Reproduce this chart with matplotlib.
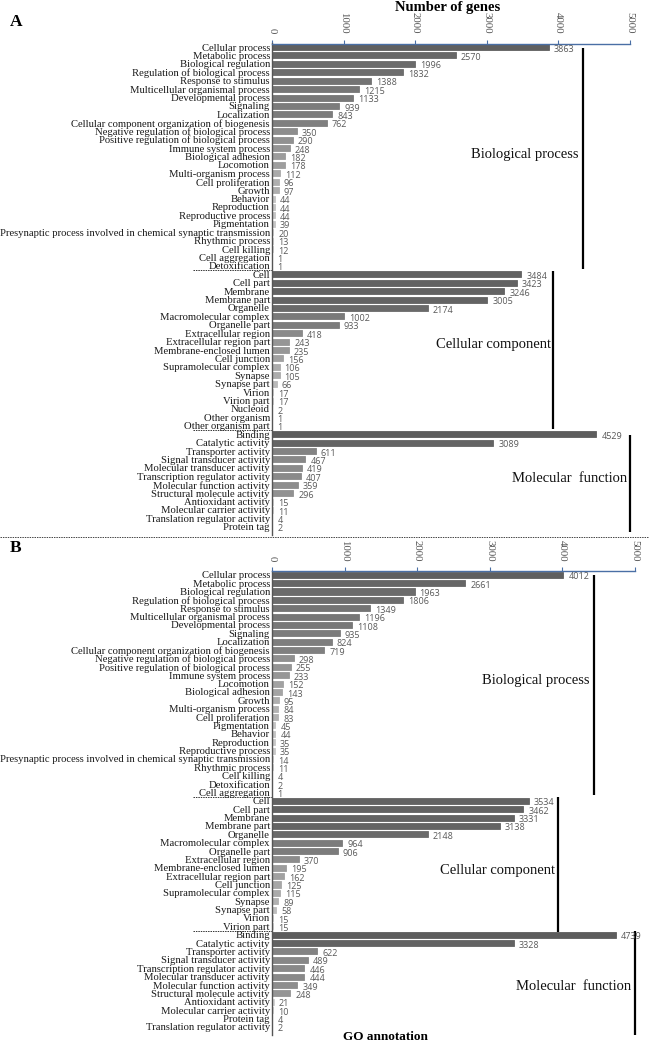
import matplotlib
matplotlib.use("Agg")
import matplotlib.pyplot as plt
import matplotlib.transforms as mtransforms
import numpy as np

# ---------------- data ----------------
A_bp_labels = ["Cellular process", "Metabolic process", "Biological regulation",
               "Regulation of biological process", "Response to stimulus",
               "Multicellular organismal process", "Developmental process", "Signaling",
               "Localization", "Cellular component organization of biogenesis",
               "Negative regulation of biological process",
               "Positive regulation of biological process", "Immune system process",
               "Biological adhesion", "Locomotion", "Multi-organism process",
               "Cell proliferation", "Growth", "Behavior", "Reproduction",
               "Reproductive process", "Pigmentation",
               "Presynaptic process involved in chemical synaptic transmission",
               "Rhythmic process", "Cell killing", "Cell aggregation", "Detoxification"]
A_bp_values = [3863, 2570, 1996, 1832, 1388, 1215, 1133, 939, 843, 762, 350, 290, 248,
               182, 178, 112, 96, 97, 44, 44, 44, 39, 20, 13, 12, 1, 1]

A_cc_labels = ["Cell", "Cell part", "Membrane", "Membrane part", "Organelle",
               "Macromolecular complex", "Organelle part", "Extracellular region",
               "Extracellular region part", "Membrane-enclosed lumen", "Cell junction",
               "Supramolecular complex", "Synapse", "Synapse part", "Virion", "Virion part",
               "Nucleoid", "Other organism", "Other organism part"]
A_cc_values = [3484, 3423, 3246, 3005, 2174, 1002, 933, 418, 243, 235, 156, 106, 105,
               66, 17, 17, 2, 1, 1]

A_mf_labels = ["Binding", "Catalytic activity", "Transporter activity",
               "Signal transducer activity", "Molecular transducer activity",
               "Transcription regulator activity", "Molecular function activity",
               "Structural molecule activity", "Antioxidant activity",
               "Molecular carrier activity", "Translation regulator activity", "Protein tag"]
A_mf_values = [4529, 3089, 611, 467, 419, 407, 359, 296, 15, 11, 4, 2]

B_bp_labels = ["Cellular process", "Metabolic process", "Biological regulation",
               "Regulation of biological process", "Response to stimulus",
               "Multicellular organismal process", "Developmental process", "Signaling",
               "Localization", "Cellular component organization of biogenesis",
               "Negative regulation of biological process",
               "Positive regulation of biological process", "Immune system process",
               "Locomotion", "Biological adhesion", "Growth", "Multi-organism process",
               "Cell proliferation", "Pigmentation", "Behavior", "Reproduction",
               "Reproductive process",
               "Presynaptic process involved in chemical synaptic transmission",
               "Rhythmic process", "Cell killing", "Detoxification", "Cell aggregation"]
B_bp_values = [4012, 2661, 1963, 1806, 1349, 1196, 1108, 935, 824, 719, 298, 255, 233,
               152, 143, 95, 84, 83, 45, 44, 35, 35, 14, 11, 4, 2, 1]

B_cc_labels = ["Cell", "Cell part", "Membrane", "Membrane part", "Organelle",
               "Macromolecular complex", "Organelle part", "Extracellular region",
               "Membrane-enclosed lumen", "Extracellular region part", "Cell junction",
               "Supramolecular complex", "Synapse", "Synapse part", "Virion", "Virion part"]
B_cc_values = [3534, 3462, 3331, 3138, 2148, 964, 906, 370, 195, 162, 125, 115, 89,
               58, 15, 15]

B_mf_labels = ["Binding", "Catalytic activity", "Transporter activity",
               "Signal transducer activity", "Transcription regulator activity",
               "Molecular transducer activity", "Molecular function activity",
               "Structural molecule activity", "Antioxidant activity",
               "Molecular carrier activity", "Protein tag", "Translation regulator activity"]
B_mf_values = [4739, 3328, 622, 489, 446, 444, 349, 248, 21, 10, 4, 2]

group_names = ["Biological process", "Cellular component", "Molecular  function"]
x_ticks = [0, 1000, 2000, 3000, 4000, 5000]

# ---------------- styling ----------------
W, H = 649, 1044
SERIF = ["Liberation Serif", "DejaVu Serif"]
SANS = ["Open Sans", "DejaVu Sans"]


def bar_gray(v):
    lv = np.log10(max(v, 1))
    g = np.interp(lv, [0, 1.3, 1.7, 2.0, 2.5, 3.0, 3.3, 3.7],
                  [0.86, 0.82, 0.76, 0.68, 0.56, 0.48, 0.42, 0.36])
    return (g, g, g)


fig = plt.figure(figsize=(W / 100, H / 100), dpi=100)


def px_axes(left, top, right, bottom):
    return fig.add_axes([left / W, 1 - bottom / H, (right - left) / W, (bottom - top) / H])


def draw_panel(ax, groups, bracket_specs, label_specs, ytop_pad):
    labels = sum([g[0] for g in groups], [])
    values = sum([g[1] for g in groups], [])
    n = len(labels)
    y = np.arange(n)
    colors = [bar_gray(v) for v in values]
    ax.barh(y, values, height=0.72, color=colors, edgecolor=colors, linewidth=0.6)
    ax.set_xlim(0, 5000)
    ax.set_ylim(n - 0.5, -ytop_pad)
    ax.set_yticks(y)
    ax.set_yticklabels(labels, family=SERIF, fontsize=7.65, color="#1a1a1a")
    ax.tick_params(axis="y", length=0, pad=1.5)
    ax.xaxis.tick_top()
    ax.set_xticks(x_ticks)
    ax.set_xticklabels([str(t) for t in x_ticks], rotation=-90, family=SERIF,
                       fontsize=7.8, color="#555555")
    ax.tick_params(axis="x", direction="out", length=3, width=0.8, color="#4a6fa5", pad=4)
    for s in ["right", "bottom"]:
        ax.spines[s].set_visible(False)
    ax.spines["top"].set_color("#4a6fa5")
    ax.spines["top"].set_linewidth(1.0)
    ax.spines["left"].set_color("#555555")
    ax.spines["left"].set_linewidth(1.0)
    ax.spines["left"].set_bounds(n - 0.5 + 0.5, -ytop_pad)
    for yi, v in zip(y, values):
        ax.text(v + 70, yi + 0.25, str(v), family=SANS, fontsize=6.5,
                color="#595959", va="center", ha="left", clip_on=False)
    # dotted separators left of axis
    trans = mtransforms.blended_transform_factory(ax.transAxes, ax.transData)
    axw_px = ax.get_position().width * W
    start = 0
    for g in groups[:-1]:
        start += len(g[0])
        ax.plot([-(272 - 193) / axw_px, 0], [start - 0.5, start - 0.5], ls=(0, (1.5, 1)),
                lw=0.7, color="#333333", transform=trans, clip_on=False)
    for (xb, y0, y1) in bracket_specs:
        ax.plot([xb, xb], [y0, y1], color="black", lw=1.6, clip_on=False,
                solid_capstyle="butt")
    for name, (xr, yc) in zip(group_names, label_specs):
        ax.text(xr, yc, name, family=SERIF, fontsize=10.5, ha="right", va="center",
                color="#111111", clip_on=False)


# Panel A
axA = px_axes(272, 43.5, 630, 531)
draw_panel(axA,
           [(A_bp_labels, A_bp_values), (A_cc_labels, A_cc_values), (A_mf_labels, A_mf_values)],
           [(4343, 0.1, 26.4), (3924, 26.6, 45.4), (5000, 46.1, 57.6)],
           [(4280, 12.8), (3890, 35.3), (4960, 51.3)],
           0.42)

# Panel B
axB = px_axes(272, 571, 635, 1031)
draw_panel(axB,
           [(B_bp_labels, B_bp_values), (B_cc_labels, B_cc_values), (B_mf_labels, B_mf_values)],
           [(4435, 0.0, 26.3), (3940, 26.6, 42.7), (5000, 42.6, 55.0)],
           [(4370, 12.6), (3900, 35.3), (4950, 49.2)],
           0.45)

# separators & titles
fig.add_artist(plt.Line2D([0, 1], [1 - 537 / H, 1 - 537 / H], transform=fig.transFigure,
                          ls=(0, (1.5, 1)), lw=0.7, color="#444444"))
fig.text(448 / W, 1 - 7.5 / H, "Number of genes", family=SERIF, fontsize=10.5, weight="bold",
         ha="center", va="center")
fig.text(10 / W, 1 - 22 / H, "A", family=SERIF, fontsize=12.5, weight="bold",
         ha="left", va="center")
fig.text(10 / W, 1 - 548 / H, "B", family=SERIF, fontsize=12.5, weight="bold",
         ha="left", va="center")
fig.text(385 / W, 1 - 1037 / H, "GO annotation", family=SERIF, fontsize=9.5, weight="bold",
         ha="center", va="center")

fig.savefig("out.png", dpi=100)
